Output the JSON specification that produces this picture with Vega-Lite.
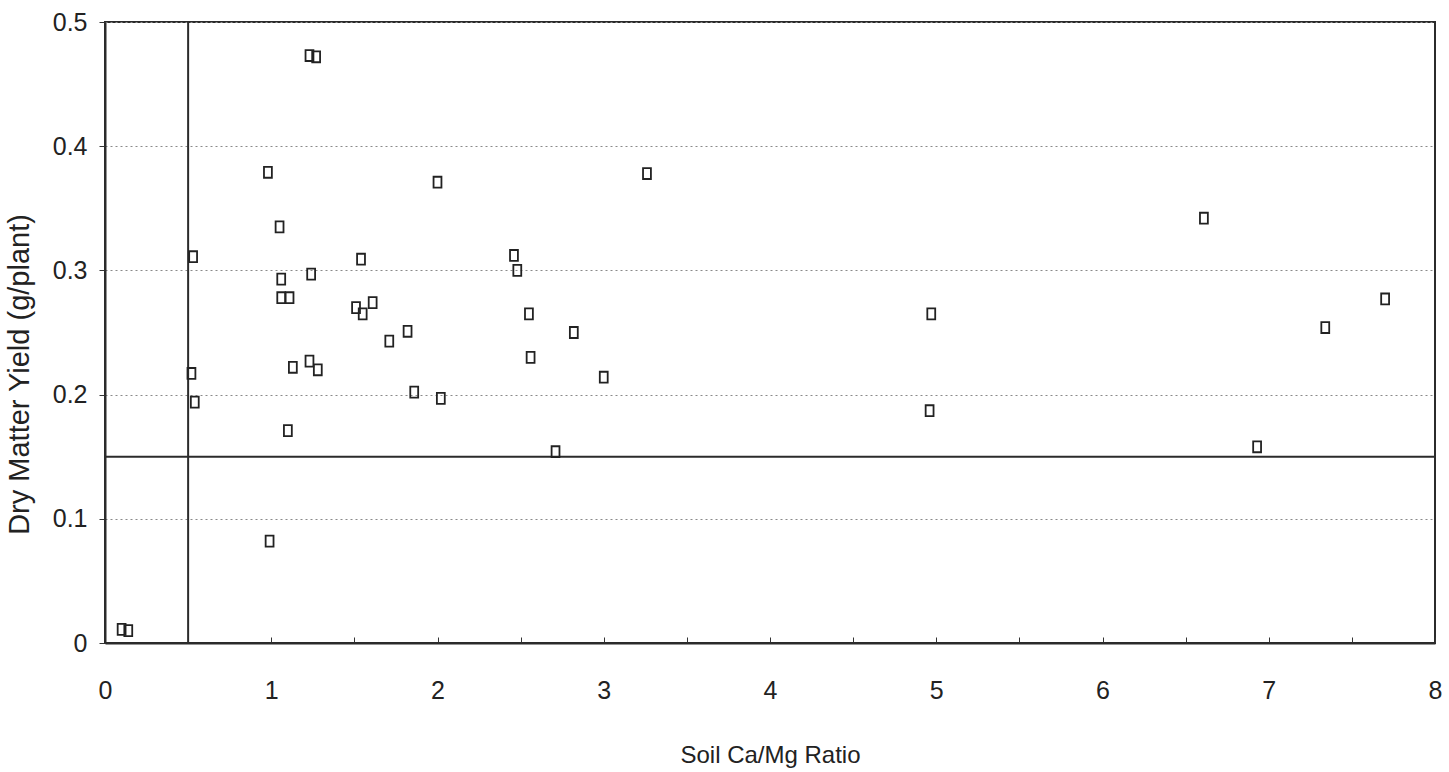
{
  "$schema": "https://vega.github.io/schema/vega-lite/v6.json",
  "width": 1330,
  "height": 621,
  "autosize": "none",
  "padding": {"left": 105, "top": 22, "right": 14, "bottom": 129},
  "background": "white",
  "config": {
    "font": "Liberation Sans",
    "view": {"stroke": "#2b2b2b", "strokeWidth": 2},
    "axis": {
      "domainColor": "#2b2b2b",
      "domainWidth": 2,
      "tickColor": "#333333",
      "tickWidth": 1,
      "labelFont": "Liberation Sans",
      "labelFontSize": 25,
      "labelColor": "#222222",
      "titleFont": "Liberation Sans",
      "titleFontSize": 24,
      "titleFontWeight": "normal",
      "titleColor": "#222222"
    }
  },
  "layer": [
    {
      "data": {"values": [{"ratio": 0.5}]},
      "mark": {"type": "rule", "color": "#2b2b2b", "strokeWidth": 2},
      "encoding": {"x": {"field": "ratio", "type": "quantitative"}}
    },
    {
      "data": {"values": [{"yield": 0.15}]},
      "mark": {"type": "rule", "color": "#2b2b2b", "strokeWidth": 2},
      "encoding": {"y": {"field": "yield", "type": "quantitative"}}
    },
    {
      "data": {
        "values": [
          {"ratio": 0.10, "yield": 0.011},
          {"ratio": 0.14, "yield": 0.010},
          {"ratio": 0.53, "yield": 0.311},
          {"ratio": 0.52, "yield": 0.217},
          {"ratio": 0.54, "yield": 0.194},
          {"ratio": 0.98, "yield": 0.379},
          {"ratio": 0.99, "yield": 0.082},
          {"ratio": 1.05, "yield": 0.335},
          {"ratio": 1.06, "yield": 0.293},
          {"ratio": 1.06, "yield": 0.278},
          {"ratio": 1.11, "yield": 0.278},
          {"ratio": 1.10, "yield": 0.171},
          {"ratio": 1.13, "yield": 0.222},
          {"ratio": 1.23, "yield": 0.473},
          {"ratio": 1.27, "yield": 0.472},
          {"ratio": 1.24, "yield": 0.297},
          {"ratio": 1.23, "yield": 0.227},
          {"ratio": 1.28, "yield": 0.220},
          {"ratio": 1.51, "yield": 0.270},
          {"ratio": 1.55, "yield": 0.265},
          {"ratio": 1.54, "yield": 0.309},
          {"ratio": 1.61, "yield": 0.274},
          {"ratio": 1.71, "yield": 0.243},
          {"ratio": 1.82, "yield": 0.251},
          {"ratio": 1.86, "yield": 0.202},
          {"ratio": 2.00, "yield": 0.371},
          {"ratio": 2.02, "yield": 0.197},
          {"ratio": 2.46, "yield": 0.312},
          {"ratio": 2.48, "yield": 0.300},
          {"ratio": 2.55, "yield": 0.265},
          {"ratio": 2.56, "yield": 0.230},
          {"ratio": 2.71, "yield": 0.154},
          {"ratio": 2.82, "yield": 0.250},
          {"ratio": 3.00, "yield": 0.214},
          {"ratio": 3.26, "yield": 0.378},
          {"ratio": 4.97, "yield": 0.265},
          {"ratio": 4.96, "yield": 0.187},
          {"ratio": 6.61, "yield": 0.342},
          {"ratio": 6.93, "yield": 0.158},
          {"ratio": 7.34, "yield": 0.254},
          {"ratio": 7.70, "yield": 0.277}
        ]
      },
      "mark": {
        "type": "point",
        "shape": "M-0.72,-1H0.72V1H-0.72Z",
        "size": 120,
        "filled": false,
        "stroke": "#222222",
        "strokeWidth": 1.8,
        "opacity": 1
      },
      "encoding": {
        "x": {
          "field": "ratio",
          "type": "quantitative",
          "scale": {"domain": [0, 8], "nice": false, "zero": false},
          "axis": {
            "title": "Soil Ca/Mg Ratio",
            "orient": "bottom",
            "grid": false,
            "values": [0, 0.5, 1, 1.5, 2, 2.5, 3, 3.5, 4, 4.5, 5, 5.5, 6, 6.5, 7, 7.5, 8],
            "labelExpr": "datum.value % 1 === 0 ? format(datum.value, 'd') : ''",
            "tickSize": -6,
            "labelPadding": 61,
            "labelBaseline": "alphabetic",
            "labelFlush": false,
            "labelOverlap": false,
            "titleBaseline": "alphabetic",
            "titleY": 119
          }
        },
        "y": {
          "field": "yield",
          "type": "quantitative",
          "scale": {"domain": [0, 0.5], "nice": false},
          "axis": {
            "title": "Dry Matter Yield (g/plant)",
            "titleFontSize": 29,
            "values": [0, 0.1, 0.2, 0.3, 0.4, 0.5],
            "format": ".1~f",
            "grid": true,
            "gridColor": "#8a8a8a",
            "gridDash": [2, 3],
            "gridWidth": 1,
            "tickSize": 6,
            "labelPadding": 12,
            "labelFlush": false,
            "labelOverlap": false,
            "titleAngle": 270,
            "titleAlign": "center",
            "titleBaseline": "alphabetic",
            "titleX": -77,
            "titleY": 352
          }
        }
      }
    }
  ]
}
